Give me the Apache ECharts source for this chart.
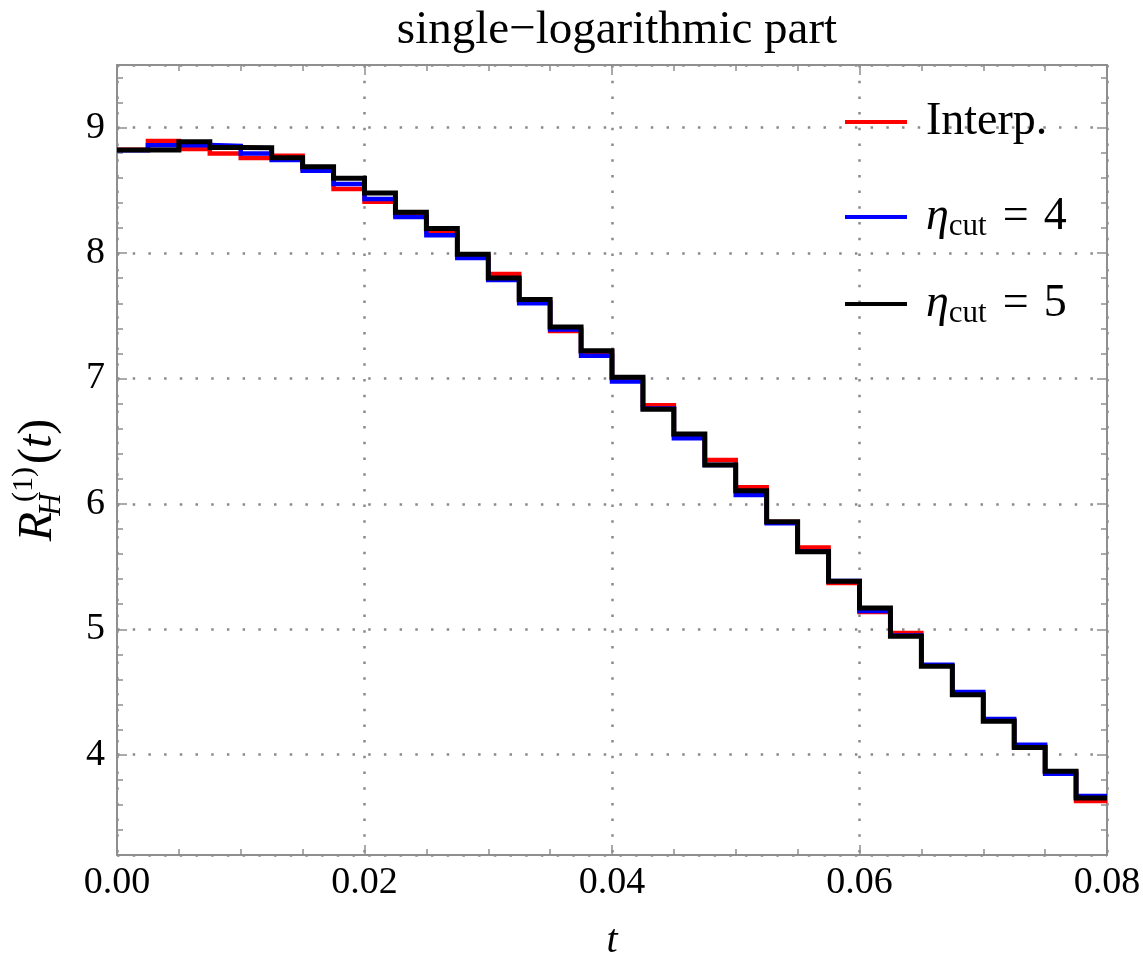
<!DOCTYPE html>
<html>
<head>
<meta charset="utf-8">
<script src="https://cdn.jsdelivr.net/npm/echarts@6/dist/echarts.min.js"></script>
<style>
html,body{margin:0;padding:0;background:#fff;}
#chart{width:1143px;height:956px;}
</style>
</head>
<body>
<div id="chart"></div>
<script>
// ---- data ----
const binWidth = 0.0025;
const seriesNames = ['Interp.', 'eta4', 'eta5'];
const interpValues = [8.825, 8.894, 8.830, 8.795, 8.758, 8.777, 8.670, 8.511, 8.410, 8.300, 8.170, 7.975, 7.834, 7.610, 7.378, 7.210,
                      7.000, 6.786, 6.550, 6.350, 6.133, 5.855, 5.653, 5.370, 5.137, 4.970, 4.710, 4.485, 4.270, 4.065, 3.860, 3.630];
const eta4Values   = [8.820, 8.861, 8.862, 8.854, 8.795, 8.742, 8.657, 8.551, 8.431, 8.288, 8.143, 7.960, 7.785, 7.600, 7.390, 7.182,
                      6.977, 6.760, 6.523, 6.310, 6.071, 5.845, 5.620, 5.385, 5.145, 4.950, 4.718, 4.500, 4.285, 4.080, 3.847, 3.670];
const eta5Values   = [8.823, 8.823, 8.888, 8.843, 8.840, 8.761, 8.689, 8.596, 8.479, 8.325, 8.197, 7.990, 7.802, 7.630, 7.410, 7.222,
                      7.009, 6.755, 6.557, 6.310, 6.105, 5.858, 5.619, 5.383, 5.170, 4.944, 4.705, 4.478, 4.267, 4.058, 3.868, 3.655];
const xTickLabels = ['0.00', '0.02', '0.04', '0.06', '0.08'];

function stepData(vals) {
  const pts = vals.map((v, i) => [+(i * binWidth).toFixed(6), v]);
  pts.push([+(vals.length * binWidth).toFixed(6), vals[vals.length - 1]]);
  return pts;
}

const serif = 'Liberation Serif';
const frameColor = '#8f8f8f';
const gridDot = {color: '#8a8a8a', width: 2.5, type: [2.5, 13.2]};

const chart = echarts.init(document.getElementById('chart'), null, {renderer: 'canvas'});

function xAxisCfg(pos, main) {
  return {
    type: 'value', position: pos, min: 0, max: 0.08, interval: 0.02,
    axisLine: {show: true, onZero: false, lineStyle: {color: frameColor, width: 2}},
    axisTick: {show: true, inside: true, length: 10, lineStyle: {color: frameColor, width: 1.5}},
    minorTick: {show: true, splitNumber: 4, length: 6, lineStyle: {color: frameColor, width: 1.5}},
    splitLine: {show: main, lineStyle: gridDot},
    minorSplitLine: {show: false},
    axisLabel: {show: main, margin: 9, fontFamily: serif, fontSize: 38, color: '#000',
      formatter: v => xTickLabels[Math.round(v / 0.02)] ?? v.toFixed(2)},
    name: main ? 't' : '', nameLocation: 'middle', nameGap: 66,
    nameTextStyle: {fontFamily: serif, fontStyle: 'italic', fontSize: 40, color: '#000'}
  };
}
function yAxisCfg(pos, main) {
  return {
    type: 'value', position: pos, min: 3.2, max: 9.5,
    axisLine: {show: true, onZero: false, lineStyle: {color: frameColor, width: 2}},
    axisTick: {show: true, inside: true, length: 10, lineStyle: {color: frameColor, width: 1.5}},
    minorTick: {show: true, splitNumber: 5, length: 6, lineStyle: {color: frameColor, width: 1.5}},
    splitLine: {show: main, lineStyle: gridDot},
    axisLabel: {show: main, margin: 12, fontFamily: serif, fontSize: 38, color: '#000',
      showMinLabel: false, showMaxLabel: false},
    name: main ? '{R|R}{sub|H}{sup|(1)}{n|(}{t|t}{n|)}' : '',
    nameLocation: 'middle', nameGap: 50, nameRotate: 90,
    nameTextStyle: {
      color: '#000', fontFamily: serif, fontSize: 48,
      padding: [0, 40, 0, 0],
      rich: {
        R: {fontFamily: serif, fontStyle: 'italic', fontSize: 48, lineHeight: 58, color: '#000'},
        sub: {fontFamily: serif, fontStyle: 'italic', fontSize: 31, lineHeight: 24, width: 1, padding: [0, 0, 0, 7], align: 'left', verticalAlign: 'bottom', color: '#000'},
        sup: {fontFamily: serif, fontSize: 30, lineHeight: 28, padding: [0, 3, 0, 2], verticalAlign: 'top', color: '#000'},
        n: {fontFamily: serif, fontSize: 48, lineHeight: 58, color: '#000'},
        t: {fontFamily: serif, fontStyle: 'italic', fontSize: 48, lineHeight: 58, color: '#000'}
      }
    }
  };
}

const legendRich = {
  i: {fontFamily: serif, fontSize: 46, lineHeight: 50, color: '#000'},
  n: {fontFamily: serif, fontSize: 46, lineHeight: 50, color: '#000'},
  q: {fontFamily: serif, fontSize: 46, lineHeight: 50, padding: [0, 15, 0, 16], color: '#000'},
  e: {fontFamily: serif, fontStyle: 'italic', fontSize: 46, lineHeight: 50, color: '#000'},
  s: {fontFamily: serif, fontSize: 31, lineHeight: 22, verticalAlign: 'bottom', color: '#000'}
};
function legendCfg(name, top) {
  return {
    orient: 'vertical', left: 840, top: top,
    itemWidth: 62, itemHeight: 4, icon: 'rect',
    data: [name],
    formatter: n => {
      if (n === 'Interp.') return '{i|Interp.}';
      const k = n === 'eta4' ? '4' : '5';
      return '{e|\u03B7}{s|cut}{q|=}{n|' + k + '}';
    },
    textStyle: {padding: [0, 0, 0, 14], rich: legendRich}
  };
}

const colors = ['#ff0000', '#0000ff', '#000000'];
const widths = [4.5, 4.5, 5];
const allValues = [interpValues, eta4Values, eta5Values];

chart.setOption({
  animation: false,
  backgroundColor: '#fff',
  title: {
    text: 'single\u2212logarithmic part', left: 612, textAlign: 'center', top: 2,
    textStyle: {fontFamily: serif, fontWeight: 'normal', fontSize: 47, color: '#000'}
  },
  grid: {left: 117, right: 36, top: 65, bottom: 101, outerBoundsMode: 'none', containLabel: false},
  xAxis: [xAxisCfg('bottom', true), xAxisCfg('top', false)],
  yAxis: [yAxisCfg('left', true), yAxisCfg('right', false)],
  legend: [legendCfg('Interp.', 94), legendCfg('eta4', 189), legendCfg('eta5', 276)],
  series: allValues.map((vals, i) => ({
    name: seriesNames[i], type: 'line', step: 'end',
    xAxisIndex: 0, yAxisIndex: 0,
    data: stepData(vals), showSymbol: false, symbol: 'none',
    lineStyle: {color: colors[i], width: widths[i], cap: 'butt', join: 'miter'},
    itemStyle: {color: colors[i]},
    z: 2 + i
  }))
});
</script>
</body>
</html>
